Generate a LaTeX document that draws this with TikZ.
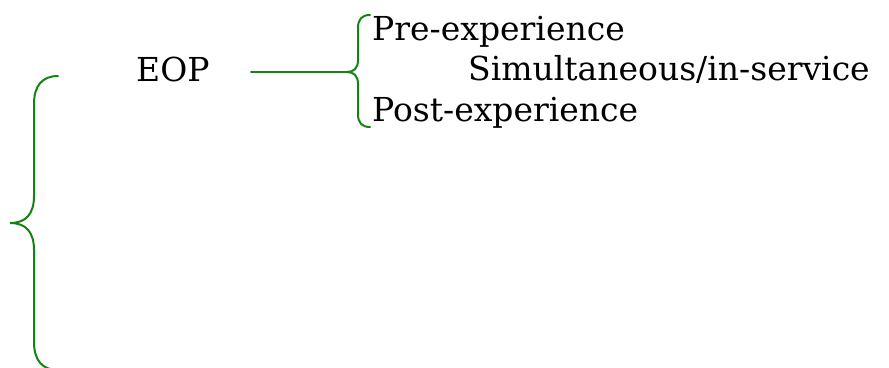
\documentclass[tikz,border=0pt]{standalone}
\usepackage{fontspec}
\setmainfont{DejaVu Serif}
\definecolor{bracegreen}{RGB}{20,130,20}
\begin{document}
\begin{tikzpicture}[x=1pt,y=-1pt,
  label text/.style={anchor=base west,inner sep=0pt,font=\fontsize{33}{40}\selectfont},
  brace line/.style={draw=bracegreen,line width=2pt,line cap=round}]
  \useasboundingbox (0,0) rectangle (889,367);
  \begin{scope}
    \clip (0,0) rectangle (889,367);

    % texts
    \node[label text] (eop)  at (136,81)  {EOP};
    \node[label text] (pre)  at (372,40)  {Pre-experience};
    \node[label text] (sim)  at (468,80)  {Simultaneous/in-service};
    \node[label text] (post) at (372,121) {Post-experience};

    % key points of the braces
    \coordinate (lineStart) at (251,72);
    \coordinate (smallTip)  at (347,72);
    \coordinate (bigTip)    at (10,223);

    % connector from EOP to the small brace
    \draw[brace line] (lineStart) -- (smallTip);

    % small brace grouping the three kinds of experience
    \draw[brace line] (370,15) .. controls (362,15) and (358,19) .. (358,28)
      -- (358,60) .. controls (358,68) and (354,72) .. (smallTip)
      .. controls (354,72) and (358,76) .. (358,84)
      -- (358,114) .. controls (358,123) and (362,127) .. (370,127);

    % large brace on the left
    \draw[brace line] (58,76) .. controls (42,76) and (34,86) .. (34,104)
      -- (34,196) .. controls (34,214) and (26,223) .. (bigTip)
      .. controls (26,223) and (34,232) .. (34,250)
      -- (34,342) .. controls (34,360) and (42,370) .. (58,370);
  \end{scope}
\end{tikzpicture}
\end{document}
